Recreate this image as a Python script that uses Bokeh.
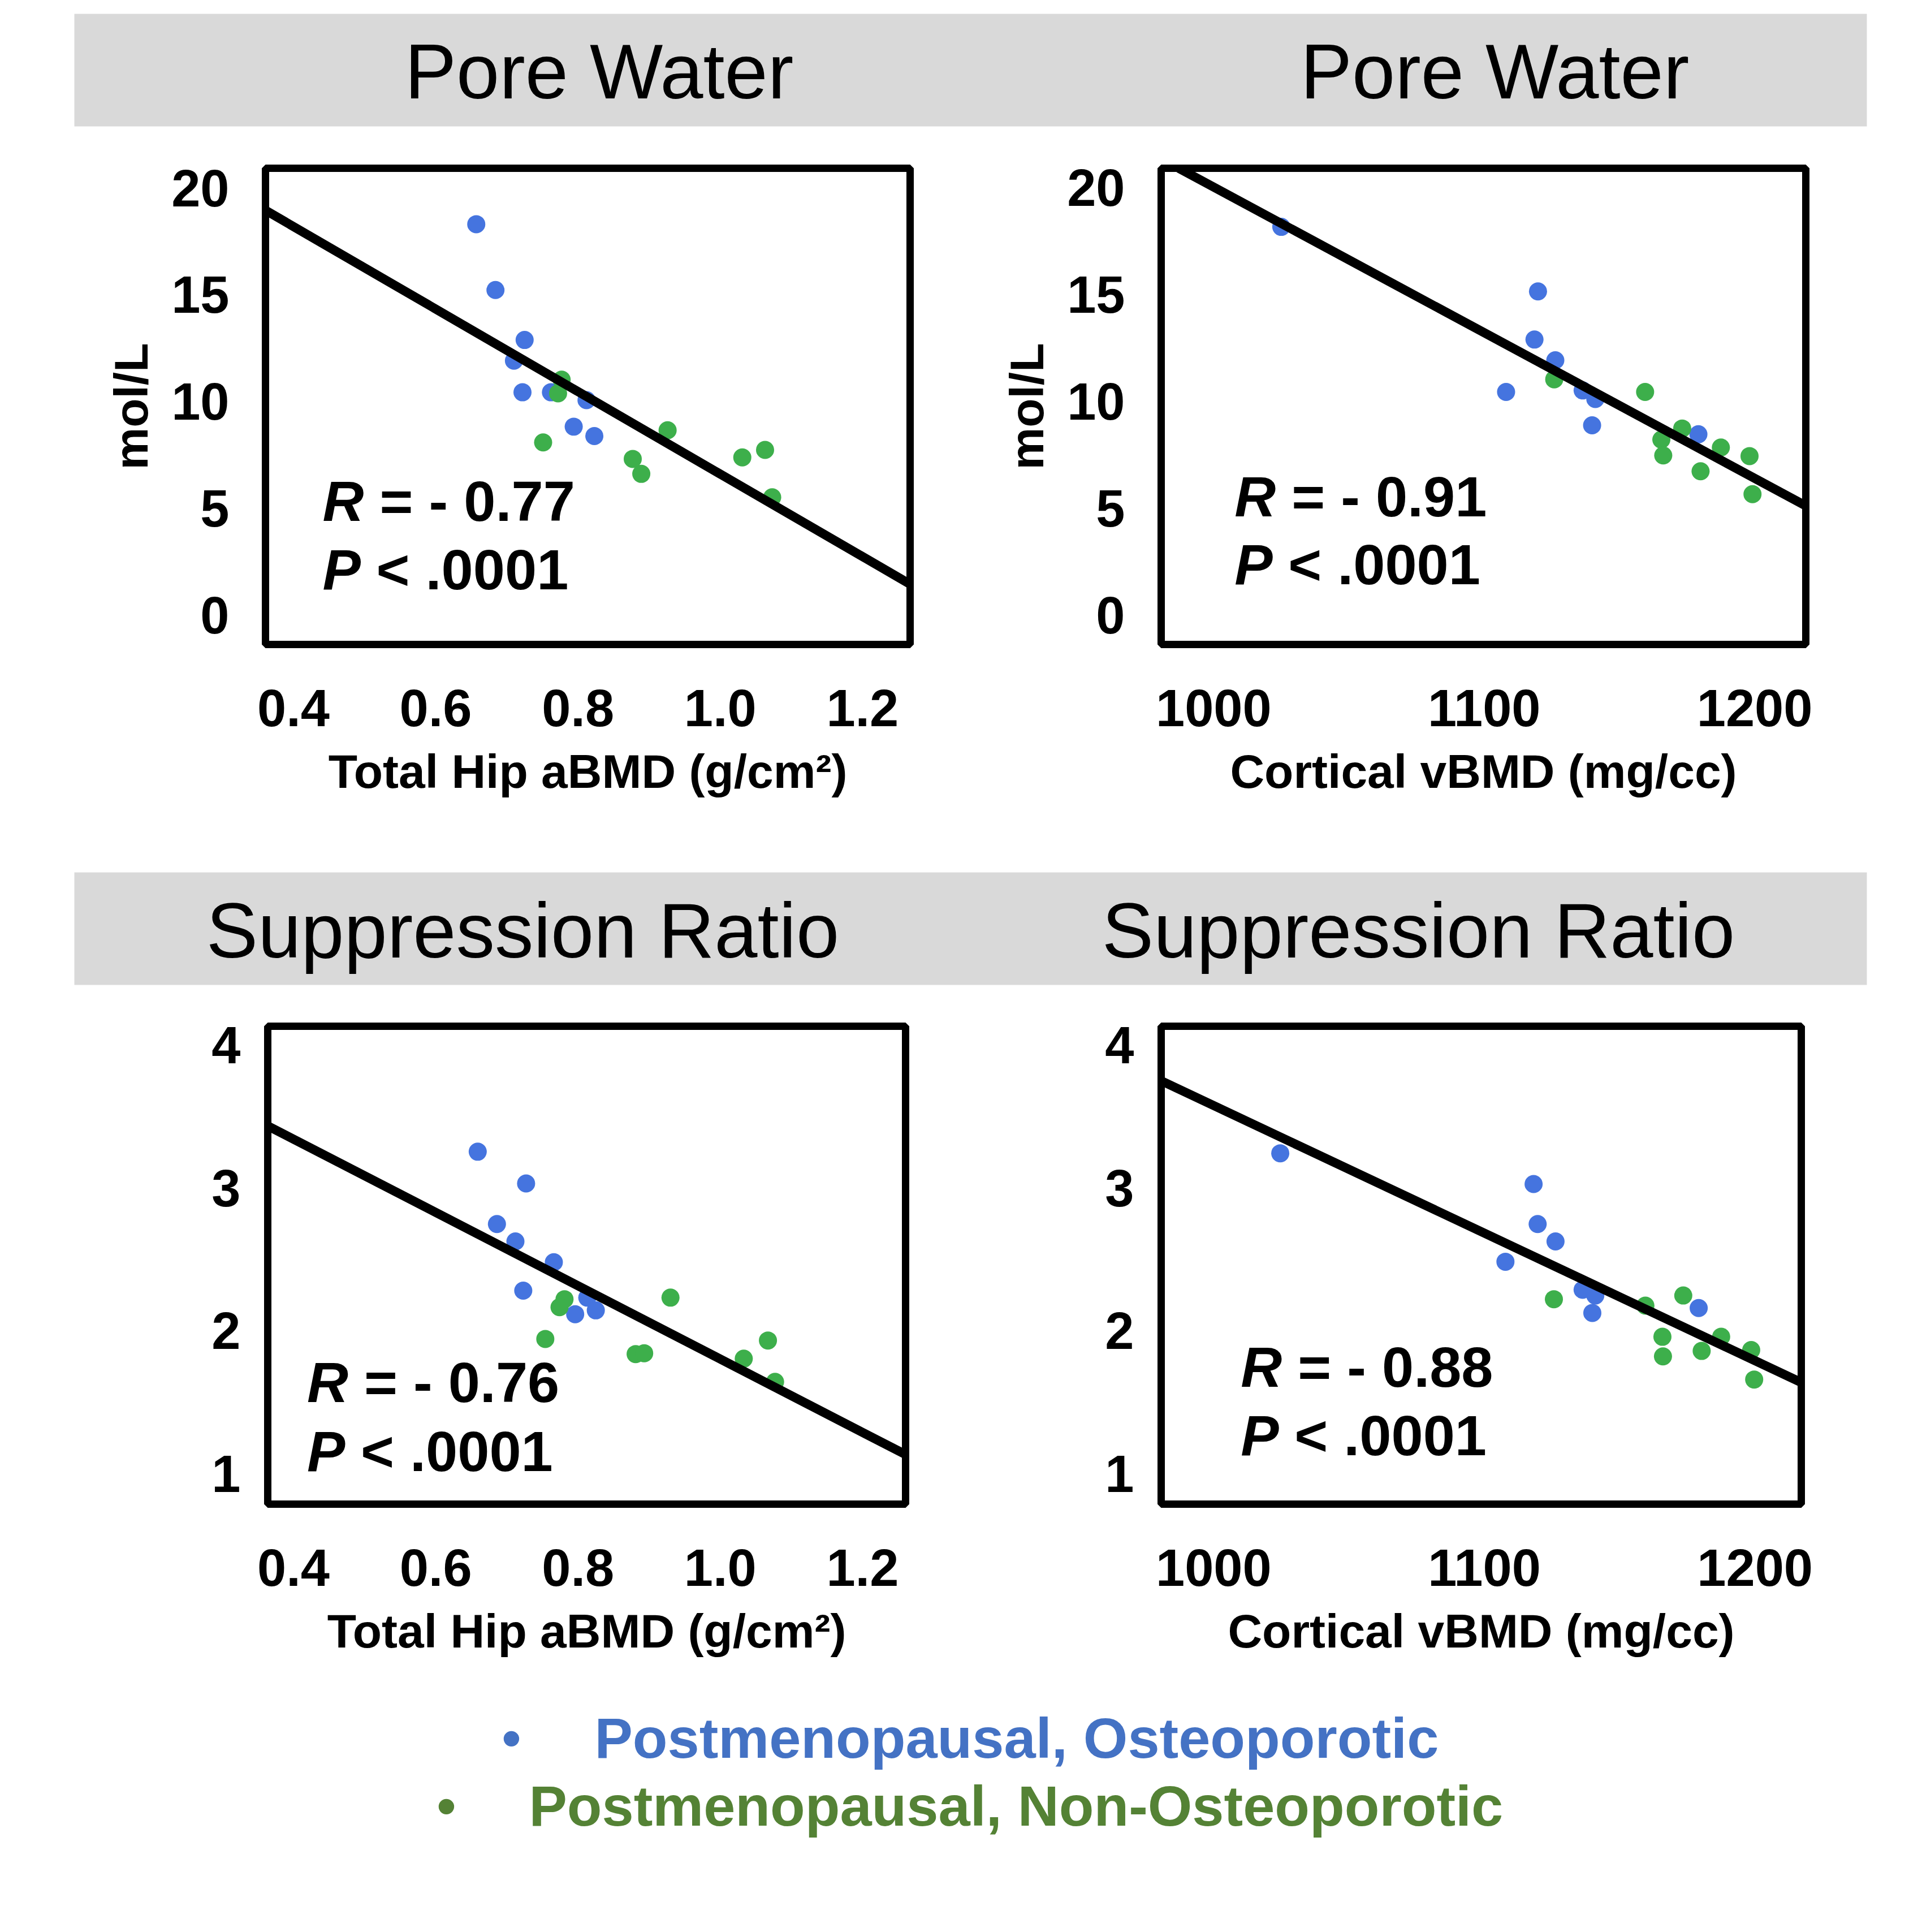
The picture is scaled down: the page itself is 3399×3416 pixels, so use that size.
from bokeh.plotting import figure
from bokeh.models import Range1d, FixedTicker, PrintfTickFormatter, Slope
from bokeh.core.properties import value
from bokeh.layouts import column, row
from bokeh.embed import file_html
from bokeh.resources import INLINE

FONT = "Liberation Sans"
BLUE_PT = "#4574DF"
GREEN_PT = "#3DAF4B"
BLUE_TXT = "#4472C4"
GREEN_TXT = "#548235"
BAND = "#D9D9D9"

# ---------------- data ----------------
# Pore water vs Total Hip aBMD
hip_osteo_pw = [0.657, 0.684, 0.725, 0.710, 0.722, 0.762, 0.812, 0.794, 0.823]
pw_hip_osteo = [18.31, 15.23, 12.89, 11.92, 10.44, 10.44, 10.07, 8.83, 8.39]
hip_non_pw = [0.777, 0.772, 0.751, 0.926, 0.877, 0.889, 1.031, 1.063, 1.073]
pw_hip_non = [11.03, 10.39, 8.09, 8.66, 7.32, 6.62, 7.39, 7.74, 5.52]

# Pore water vs Cortical vBMD
vbmd_osteo_pw = [1025.0, 1119.9, 1118.6, 1126.3, 1108.1, 1136.4, 1141.1, 1139.9, 1179.2]
pw_vbmd_osteo = [18.16, 15.14, 12.89, 11.92, 10.44, 10.51, 10.11, 8.88, 8.46]
vbmd_non_pw = [1125.9, 1159.5, 1173.2, 1165.5, 1166.2, 1187.5, 1198.1, 1180.0, 1199.2]
pw_vbmd_non = [11.03, 10.44, 8.73, 8.21, 7.47, 7.84, 7.44, 6.73, 5.66]

# Suppression ratio vs Total Hip aBMD
hip_osteo_sr = [0.659, 0.727, 0.686, 0.712, 0.766, 0.723, 0.813, 0.825, 0.796]
sr_hip_osteo = [3.255, 3.033, 2.749, 2.627, 2.482, 2.283, 2.234, 2.145, 2.118]
hip_non_sr = [0.781, 0.774, 0.754, 0.930, 0.881, 0.893, 1.033, 1.067, 1.077]
sr_hip_non = [2.223, 2.167, 1.945, 2.234, 1.839, 1.845, 1.807, 1.934, 1.645]

# Suppression ratio vs Cortical vBMD
vbmd_osteo_sr = [1024.6, 1118.2, 1119.7, 1126.3, 1107.8, 1136.3, 1141.0, 1139.9, 1179.2]
sr_vbmd_osteo = [3.244, 3.029, 2.749, 2.627, 2.485, 2.289, 2.249, 2.127, 2.161]
vbmd_non_sr = [1125.7, 1159.5, 1173.5, 1165.8, 1166.0, 1187.5, 1198.6, 1180.3, 1199.7]
sr_vbmd_non = [2.223, 2.178, 2.249, 1.960, 1.823, 1.960, 1.867, 1.861, 1.661]

# regression lines
fit_slopes = [-19.32, -0.0681, -2.565, -0.008927]
fit_intercepts = [25.93, 88.12, 4.369, 12.505]
r_values = ["= - 0.77", "= - 0.91", "= - 0.76", "= - 0.88"]
p_value = "< .0001"

panel_titles = ["Pore Water", "Suppression Ratio"]
x_labels = ["Total Hip aBMD (g/cm²)", "Cortical vBMD (mg/cc)"]
y_label = "mol/L"
hip_ticks = [0.4, 0.6, 0.8, 1.0, 1.2]
vbmd_ticks = [1000, 1100, 1200]
pw_ticks = [0, 5, 10, 15, 20]
sr_ticks = [1, 2, 3, 4]
legend_labels = ["Postmenopausal, Osteoporotic", "Postmenopausal, Non-Osteoporotic"]

# ---------------- builders ----------------
W = 3399
SPLIT = 1750          # page x where the right-hand column starts
BAND_L, BAND_R = 131, 3301
ANN_FS = 101          # (sizes like 100px confuse the svg font parser)


def style_axis(ax, tick_fs, label_fs, label_standoff, tick_standoff):
    ax.axis_line_color = None
    ax.major_tick_line_color = None
    ax.minor_tick_line_color = None
    ax.major_tick_out = 0
    ax.major_tick_in = 0
    ax.minor_tick_out = 0
    ax.minor_tick_in = 0
    ax.major_label_standoff = tick_standoff
    ax.major_label_text_font = FONT
    ax.major_label_text_font_size = tick_fs
    ax.major_label_text_font_style = "bold"
    ax.major_label_text_color = "black"
    ax.axis_label_text_font = FONT
    ax.axis_label_text_font_size = label_fs
    ax.axis_label_text_font_style = "bold"
    ax.axis_label_text_color = "black"
    ax.axis_label_standoff = label_standoff


def add_text(p, x, y, text, size, color="black", style="normal", align="left", x_offset=0):
    p.text(x=[x], y=[y], text=[text], x_offset=x_offset,
           text_font=value(FONT), text_font_size=value(f"{size}px"),
           text_font_style=value(style), text_color=color,
           text_align=value(align), text_baseline=value("middle"))


def make_panel(width, height, borders, xr, yr, xticks, xfmt, yticks, xlabel, ylabel,
               xo, yo, xn, yn, idx, ann, ystand):
    left, right, top, bottom = borders
    p = figure(width=width, height=height, x_range=Range1d(*xr), y_range=Range1d(*yr),
               output_backend="svg", toolbar_location=None,
               min_border_left=left, min_border_right=right,
               min_border_top=top, min_border_bottom=bottom)
    p.grid.visible = False
    p.outline_line_color = "black"
    p.outline_line_width = 13
    p.background_fill_color = "white"
    p.border_fill_color = "white"
    xa = p.xaxis[0]
    ya = p.yaxis[0]
    xa.ticker = FixedTicker(ticks=xticks)
    xa.formatter = PrintfTickFormatter(format=xfmt)
    ya.ticker = FixedTicker(ticks=yticks)
    ya.formatter = PrintfTickFormatter(format="%d")
    style_axis(xa, "92px", "84px", 30, 80)
    style_axis(ya, "92px", "84px", 21, ystand)
    xa.axis_label = xlabel
    if ylabel:
        ya.axis_label = ylabel

    p.scatter(x=xo, y=yo, size=32, fill_color=BLUE_PT, line_color=None)
    p.scatter(x=xn, y=yn, size=32, fill_color=GREEN_PT, line_color=None)
    p.add_layout(Slope(gradient=fit_slopes[idx], y_intercept=fit_intercepts[idx],
                       line_color="black", line_width=16))

    # annotation positions are the vertical centres of the capitals
    ax_, ay_r, ay_p = ann
    fs = ANN_FS
    add_text(p, ax_, ay_r, "R", fs, style="bold italic")
    add_text(p, ax_, ay_r, r_values[idx], fs, style="bold", x_offset=round(1.0 * fs))
    add_text(p, ax_, ay_p, "P", fs, style="bold italic")
    add_text(p, ax_, ay_p, p_value, fs, style="bold", x_offset=round(0.945 * fs))
    return p


def make_band_figure(height, top, bottom, y0, y1, fill):
    p = figure(width=W, height=height, x_range=Range1d(BAND_L, BAND_R),
               y_range=Range1d(y1, y0),
               x_axis_type=None, y_axis_type=None,
               min_border_left=BAND_L, min_border_right=W - BAND_R,
               min_border_top=top, min_border_bottom=bottom,
               output_backend="svg", toolbar_location=None)
    p.grid.visible = False
    p.background_fill_color = fill
    p.border_fill_color = "white"
    p.outline_line_color = None
    return p


# header 1: page y 0..240, band 24..223
h1 = make_band_figure(240, 24, 17, 24, 223, BAND)
for x in [1059, 2643]:
    add_text(h1, x, 126, panel_titles[0], 137, align="center")

# top row: page y 240..1500
tl = make_panel(SPLIT, 1260, (469, SPLIT - 1609, 56, 361), (0.3607, 1.2669), (-1.37, 20.93),
                hip_ticks, "%.1f", pw_ticks, x_labels[0], y_label,
                hip_osteo_pw, pw_hip_osteo, hip_non_pw, pw_hip_non, 0,
                (0.441, 5.35, 2.15), 64)
tr = make_panel(W - SPLIT, 1260, (2053 - SPLIT, W - 3193, 57, 361), (980.6, 1218.9), (-1.37, 20.90),
                vbmd_ticks, "%d", pw_ticks, x_labels[1], y_label,
                vbmd_osteo_pw, pw_vbmd_osteo, vbmd_non_pw, pw_vbmd_non, 1,
                (1007.7, 5.55, 2.36), 64)

# header 2: page y 1500..1770, band 1542..1741
h2 = make_band_figure(270, 42, 29, 1542, 1741, BAND)
for x in [924, 2508]:
    add_text(h2, x, 1645, panel_titles[1], 137, align="center")

# bottom row: page y 1770..2950
bl = make_panel(SPLIT, 1180, (473, SPLIT - 1601, 44, 291), (0.3638, 1.2605), (0.789, 4.133),
                hip_ticks, "%.1f", sr_ticks, x_labels[0], None,
                hip_osteo_sr, sr_hip_osteo, hip_non_sr, sr_hip_non, 2,
                (0.419, 1.64, 1.16), 48)
br = make_panel(W - SPLIT, 1180, (2053 - SPLIT, W - 3185, 44, 291), (980.6, 1217.1), (0.789, 4.133),
                vbmd_ticks, "%d", sr_ticks, x_labels[1], None,
                vbmd_osteo_sr, sr_vbmd_osteo, vbmd_non_sr, sr_vbmd_non, 3,
                (1010.0, 1.75, 1.27), 48)

# legend: page y 2950..3410 (same horizontal frame as the bands)
lg = make_band_figure(460, 0, 0, 2950, 3410, "white")
leg_colors = [BLUE_TXT, GREEN_TXT]
leg_bullet_x = [904, 789]
leg_text_x = [1051, 935]
leg_mid_y = [3072, 3192]
for i in range(2):
    add_text(lg, leg_bullet_x[i], leg_mid_y[i], "•", 101, color=leg_colors[i], align="center")
    add_text(lg, leg_text_x[i], leg_mid_y[i], legend_labels[i], 101,
             color=leg_colors[i], style="bold")

layout = column(h1, row(tl, tr), h2, row(bl, br), lg)
open("out.html", "w").write(file_html(layout, INLINE))
